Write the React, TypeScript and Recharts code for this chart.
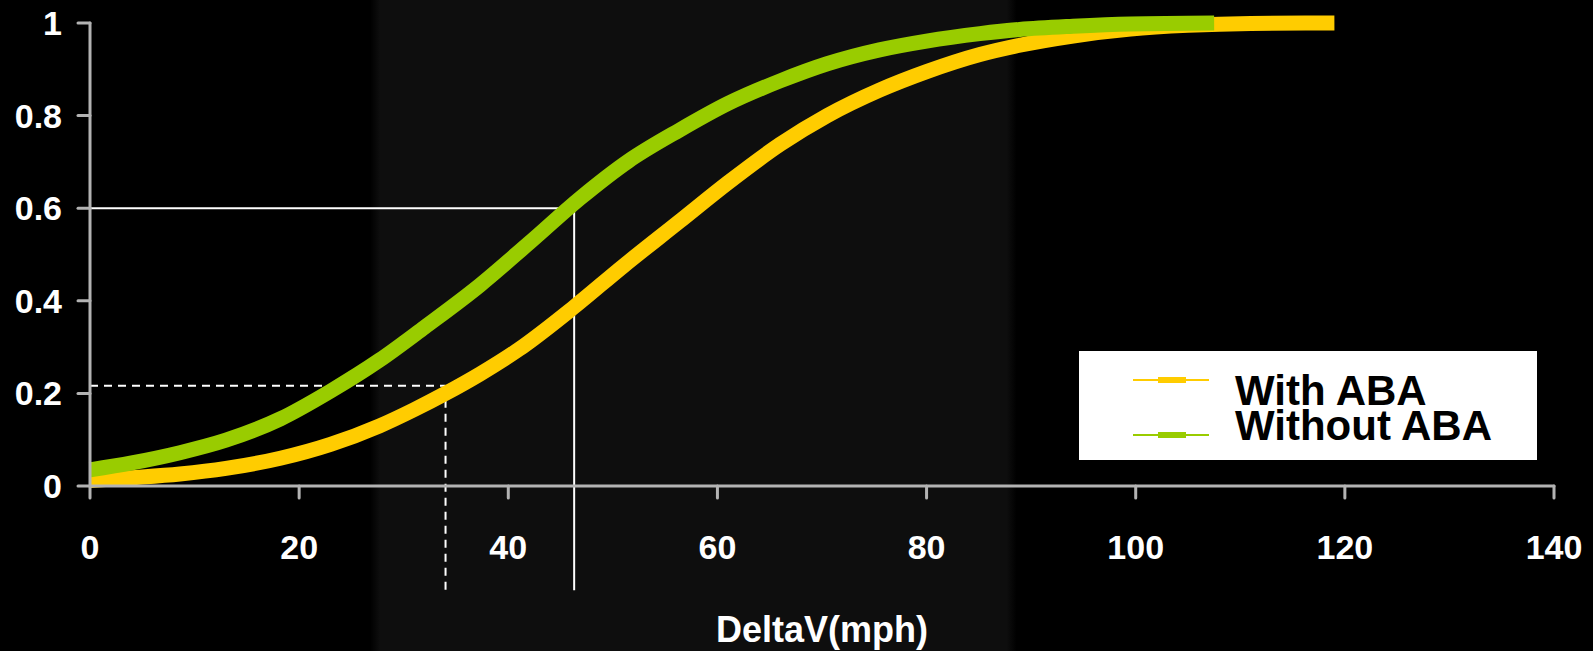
import {
  Legend,
  Line,
  LineChart,
  ReferenceArea,
  ReferenceLine,
  XAxis,
  YAxis,
} from "recharts";

// ── Data ──────────────────────────────────────────────────────────────────────

const withAbaX = [0, 4, 8.6, 13, 18.2, 23, 27.7, 31, 34, 37.3, 41, 46.2, 51, 56.4, 61, 66, 70.5, 75.5, 80, 85.1, 88.9, 94, 99.5, 105, 111, 119];
const withAbaY = [0.012, 0.018, 0.026, 0.038, 0.06, 0.09, 0.13, 0.165, 0.2, 0.242, 0.295, 0.385, 0.475, 0.572, 0.655, 0.738, 0.8, 0.855, 0.895, 0.932, 0.952, 0.972, 0.987, 0.995, 0.999, 1.0];

const withoutAbaX = [0, 4, 8.6, 13, 18.2, 23, 27.7, 32, 37.3, 42, 46.9, 51.5, 56.4, 61, 66, 70.5, 75.5, 80, 85.1, 88.9, 94, 99.5, 107.5];
const withoutAbaY = [0.035, 0.05, 0.072, 0.099, 0.145, 0.205, 0.272, 0.343, 0.434, 0.525, 0.622, 0.702, 0.769, 0.826, 0.875, 0.912, 0.942, 0.961, 0.977, 0.986, 0.993, 0.998, 1.0];

const xTicks = [0, 20, 40, 60, 80, 100, 120, 140];
const yTicks = [0, 0.2, 0.4, 0.6, 0.8, 1];

// guide lines drawn on the chart (x in mph, y in probability)
const solidGuide = { x: 46.3, y: 0.6 };
const dashedGuide = { x: 34, y: 0.2166 };
const guideBottom = -0.225;

// darker vertical band behind the curves
const band = { x1: 26.8, x2: 88.6, y1: -0.36, y2: 1.06 };

const withAba = withAbaX.map((x, i) => ({ x, y: withAbaY[i] }));
const withoutAba = withoutAbaX.map((x, i) => ({ x, y: withoutAbaY[i] }));

const YELLOW = "#ffcc00";
const GREEN = "#99cc00";
const AXIS = "#b3b3b3";
const FONT = "'Liberation Sans', Arial, sans-serif";

// ── Legend box ────────────────────────────────────────────────────────────────

function LegendBox({ payload }: { payload?: any[] }) {
  const items = payload ?? [];
  return (
    <div style={{ position: "relative", width: 458, height: 109, background: "#fff", fontFamily: FONT }}>
      {items.map((item, i) => (
        <div key={item.value}>
          <svg
            width={76}
            height={8}
            style={{ position: "absolute", left: 54, top: (i === 0 ? 29 : 84) - 4 }}
          >
            <line x1={0} x2={76} y1={4} y2={4} stroke={item.color} strokeWidth={2} />
            <line x1={25} x2={53} y1={4} y2={4} stroke={item.color} strokeWidth={6} />
          </svg>
          <div
            style={{
              position: "absolute",
              left: 156,
              top: i === 0 ? 22 : 57,
              fontSize: 42,
              lineHeight: "35px",
              fontWeight: "bold",
              color: "#000",
              whiteSpace: "nowrap",
            }}
          >
            {item.value}
          </div>
        </div>
      ))}
    </div>
  );
}

// ── Chart ─────────────────────────────────────────────────────────────────────

export default function App() {
  const tickStyle = { fill: "#fff", fontSize: 34, fontWeight: "bold", fontFamily: FONT };
  const lineStyle = { stroke: AXIS, strokeWidth: 3, strokeLinecap: "round" as const };

  return (
    <div style={{ position: "absolute", left: 0, top: 0, width: 1593, height: 651, background: "#000" }}>
      <LineChart width={1593} height={651} margin={{ top: 23, right: 39, bottom: 0, left: 0 }}>
        <defs>
          <linearGradient id="bandFill" x1="0" x2="1" y1="0" y2="0">
            <stop offset="0" stopColor="#000" />
            <stop offset="0.015" stopColor="#0e0e0e" />
            <stop offset="0.985" stopColor="#0e0e0e" />
            <stop offset="1" stopColor="#000" />
          </linearGradient>
        </defs>
        <ReferenceArea
          x1={band.x1}
          x2={band.x2}
          y1={band.y1}
          y2={band.y2}
          fill="url(#bandFill)"
          fillOpacity={1}
          stroke="none"
          ifOverflow="visible"
        />
        <XAxis
          type="number"
          dataKey="x"
          domain={[0, 140]}
          ticks={xTicks}
          interval={0}
          height={165}
          tick={tickStyle}
          tickSize={12}
          tickMargin={37}
          axisLine={lineStyle}
          tickLine={lineStyle}
          label={{
            value: "DeltaV(mph)",
            position: "insideBottom",
            offset: 9,
            fill: "#fff",
            fontSize: 36,
            fontWeight: "bold",
            fontFamily: FONT,
          }}
        />
        <YAxis
          type="number"
          domain={[0, 1]}
          ticks={yTicks}
          interval={0}
          width={90}
          tick={tickStyle}
          tickSize={12}
          tickMargin={16}
          axisLine={lineStyle}
          tickLine={lineStyle}
        />
        <ReferenceLine
          segment={[{ x: 0, y: solidGuide.y }, { x: solidGuide.x, y: solidGuide.y }]}
          stroke="#fff"
          strokeWidth={2}
          ifOverflow="visible"
        />
        <ReferenceLine
          segment={[{ x: solidGuide.x, y: solidGuide.y }, { x: solidGuide.x, y: guideBottom }]}
          stroke="#fff"
          strokeWidth={2}
          ifOverflow="visible"
        />
        <ReferenceLine
          segment={[{ x: 0, y: dashedGuide.y }, { x: dashedGuide.x, y: dashedGuide.y }]}
          stroke="#fff"
          strokeWidth={2}
          strokeDasharray="8 6"
          ifOverflow="visible"
        />
        <ReferenceLine
          segment={[{ x: dashedGuide.x, y: dashedGuide.y }, { x: dashedGuide.x, y: guideBottom }]}
          stroke="#fff"
          strokeWidth={2}
          strokeDasharray="8 6"
          ifOverflow="visible"
        />
        <Line
          data={withAba}
          dataKey="y"
          name="With ABA"
          type="monotone"
          stroke={YELLOW}
          strokeWidth={15}
          strokeLinecap="butt"
          dot={false}
          activeDot={false}
          isAnimationActive={false}
        />
        <Line
          data={withoutAba}
          dataKey="y"
          name="Without ABA"
          type="monotone"
          stroke={GREEN}
          strokeWidth={15}
          strokeLinecap="butt"
          dot={false}
          activeDot={false}
          isAnimationActive={false}
        />
        <Legend
          layout="horizontal"
          align="center"
          verticalAlign="middle"
          content={(props: any) => <LegendBox payload={props.payload} />}
          wrapperStyle={{ left: 1079, top: 351, width: 458, height: 109 }}
        />
      </LineChart>
    </div>
  );
}
